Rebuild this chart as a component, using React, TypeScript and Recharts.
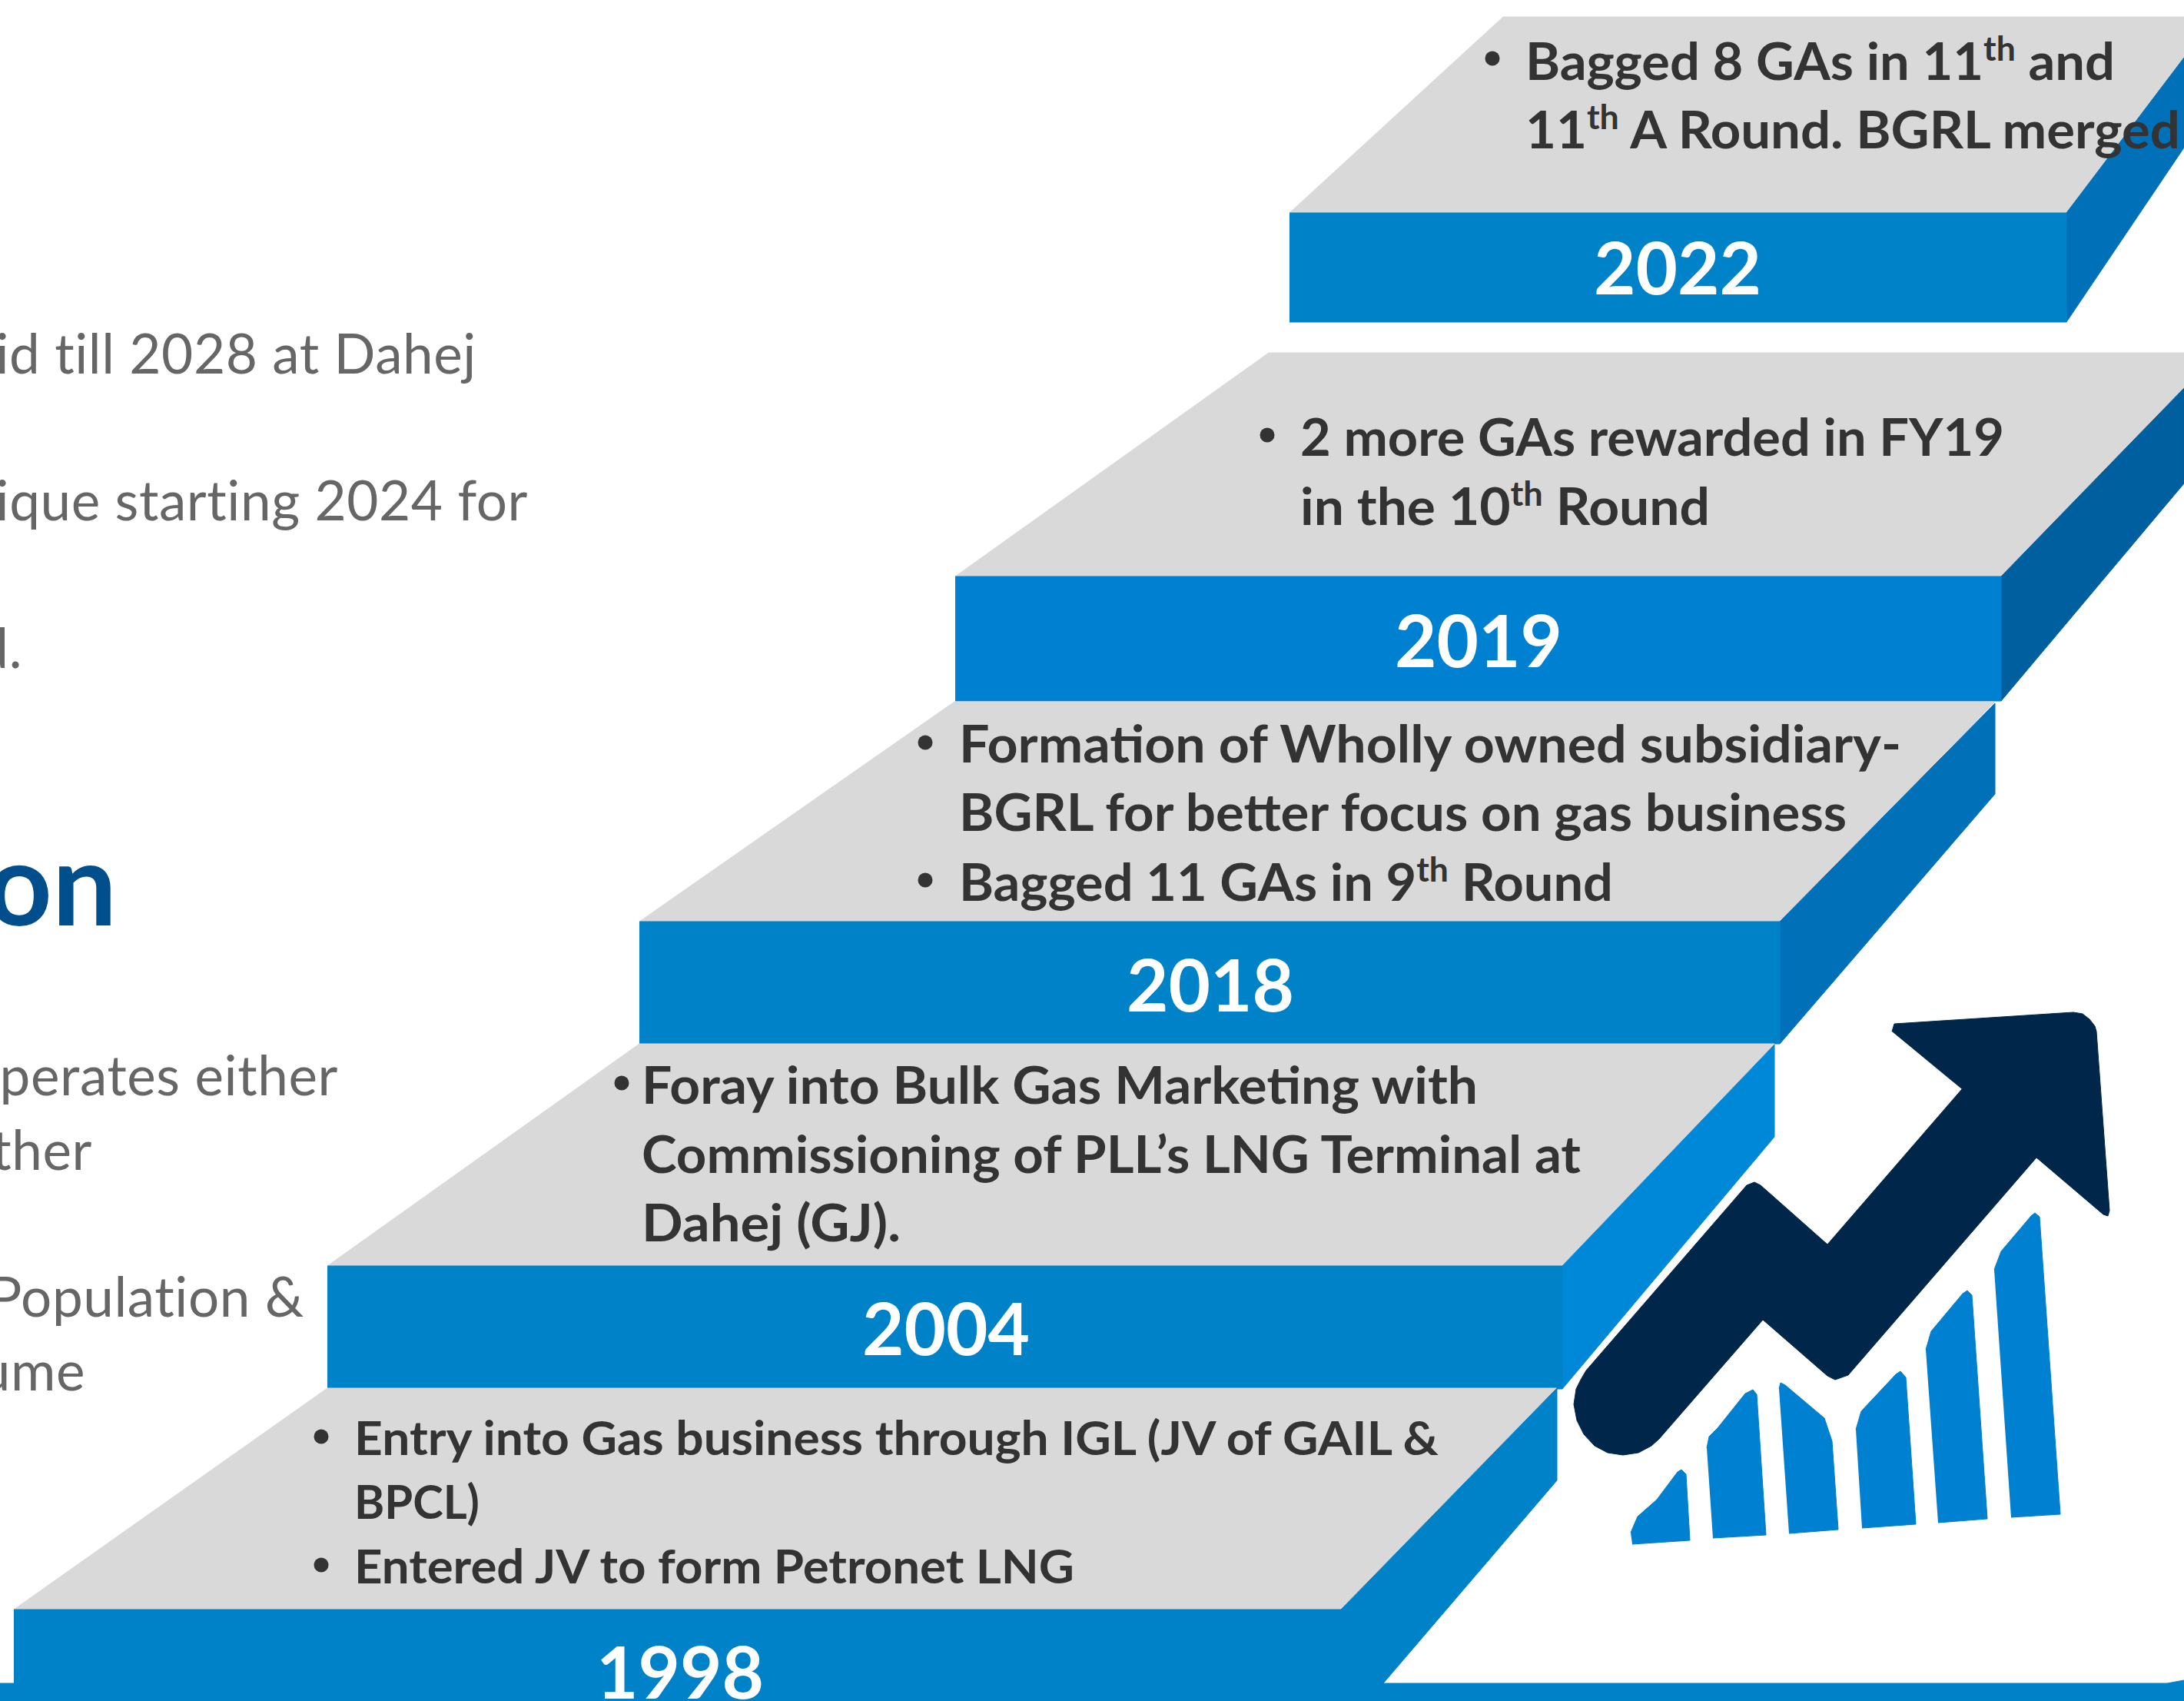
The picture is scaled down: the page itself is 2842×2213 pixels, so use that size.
import { ScatterChart, Scatter, XAxis, YAxis } from "recharts";

const W = 2842;
const H = 2213;

const COLORS = {
  top: "#d9d9d9",
  front: "#0082c8",
  front2019: "#0080d0",
  side2022: "#0070b8",
  side2019: "#005f9e",
  side2018: "#0070b8",
  side2004: "#0088d8",
  arrow: "#00274a",
  bars: "#0080d0",
  ink: "#333333",
  muted: "#666666",
  heading: "#004e8c",
};

const FONT = "Lato, sans-serif";

type Pair = [number, number];

// step faces, back to front
const top2022: Pair[] = [[1678, 277], [1956, 22], [2842, 22], [2842, 75], [2689, 277]];
const front2022: Pair[] = [[1678, 277], [2689, 277], [2689, 419], [1678, 419]];
const side2022: Pair[] = [[2689, 277], [2842, 75], [2842, 192], [2689, 419]];

const top2019: Pair[] = [[1243, 750], [1651, 459], [2842, 459], [2842, 505], [2604, 750]];
const front2019: Pair[] = [[1243, 750], [2604, 750], [2604, 912], [1243, 912]];
const side2019: Pair[] = [[2604, 750], [2842, 505], [2842, 629], [2604, 912]];

const top2018: Pair[] = [[832, 1199], [1242, 913], [2596, 913], [2316, 1199]];
const front2018: Pair[] = [[832, 1199], [2316, 1199], [2316, 1358], [832, 1358]];
const side2018: Pair[] = [[2316, 1199], [2596, 915], [2596, 1033], [2316, 1358]];

const top2004: Pair[] = [[426, 1647], [832, 1358], [2309, 1358], [2033, 1647]];
const front2004: Pair[] = [[426, 1647], [2033, 1647], [2033, 1807], [426, 1807]];
const side2004: Pair[] = [[2033, 1647], [2309, 1359], [2309, 1479], [2033, 1807]];

const top1998: Pair[] = [[18, 2094], [426, 1806], [2026, 1806], [1745, 2094]];
const front1998: Pair[] = [[18, 2094], [1745, 2094], [1745, 2213], [18, 2213]];
const side1998: Pair[] = [[1745, 2094], [2026, 1806], [2026, 1926], [1800, 2190], [1745, 2213]];
const band: Pair[] = [[0, 2190], [2820, 2190], [2842, 2186], [2842, 2213], [0, 2213]];

const arrow: Pair[] = [
  [2462, 1342], [2465, 1332], [2698, 1317], [2710, 1319], [2719, 1326], [2726, 1335],
  [2728, 1342], [2745, 1575], [2743, 1582], [2737, 1580], [2650, 1506], [2405, 1789],
  [2388, 1795], [2378, 1790], [2294, 1717], [2159, 1872], [2149, 1881], [2132, 1890],
  [2112, 1893], [2092, 1890], [2075, 1881], [2061, 1866], [2052, 1848], [2048, 1827],
  [2051, 1807], [2057, 1795], [2064, 1783], [2273, 1542], [2283, 1538], [2291, 1542],
  [2378, 1619], [2553, 1417],
];

const bar1: Pair[] = [[2124, 2009], [2199, 2004], [2194, 1918], [2188, 1912], [2183, 1915], [2156, 1951], [2131, 1973], [2122, 1994]];
const bar2: Pair[] = [[2229, 2001], [2298, 1997], [2286, 1814], [2281, 1808], [2271, 1813], [2235, 1858], [2224, 1869], [2221, 1884]];
const bar3: Pair[] = [[2328, 1995], [2392, 1990], [2384, 1875], [2374, 1845], [2323, 1802], [2317, 1799], [2315, 1807]];
const bar4: Pair[] = [[2423, 1988], [2493, 1983], [2480, 1792], [2473, 1784], [2467, 1788], [2422, 1836], [2415, 1860]];
const bar5: Pair[] = [[2522, 1981], [2586, 1976], [2566, 1685], [2560, 1679], [2554, 1683], [2513, 1732], [2506, 1756]];
const bar6: Pair[] = [[2617, 1974], [2681, 1970], [2654, 1583], [2648, 1578], [2643, 1582], [2604, 1628], [2595, 1652]];

const faces: [Pair[], string][] = [
  [top2022, COLORS.top],
  [side2022, COLORS.side2022],
  [front2022, COLORS.front],
  [top2019, COLORS.top],
  [side2019, COLORS.side2019],
  [front2019, COLORS.front2019],
  [top2018, COLORS.top],
  [side2018, COLORS.side2018],
  [front2018, COLORS.front],
  [top2004, COLORS.top],
  [side2004, COLORS.side2004],
  [front2004, COLORS.front],
  [top1998, COLORS.top],
  [side1998, COLORS.front],
  [front1998, COLORS.front],
  [band, COLORS.front],
  [arrow, COLORS.arrow],
  [bar1, COLORS.bars],
  [bar2, COLORS.bars],
  [bar3, COLORS.bars],
  [bar4, COLORS.bars],
  [bar5, COLORS.bars],
  [bar6, COLORS.bars],
];

// ^..^ marks a superscript, end is where the line stops on the x axis
const stepLines = [
  { x: 1985, y: 104, end: 2752, text: "Bagged 8 GAs in 11^th^ and" },
  { x: 1985, y: 193, end: 2837, text: "11^th^ A Round. BGRL merged" },
  { x: 1692, y: 593, end: 2608, text: "2 more GAs rewarded in FY19" },
  { x: 1692, y: 683, end: 2225, text: "in the 10^th^ Round" },
  { x: 1248, y: 992, end: 2474, text: "Formation of Wholly owned subsidiary-" },
  { x: 1248, y: 1081, end: 2403, text: "BGRL for better focus on gas business" },
  { x: 1248, y: 1172, end: 2099, text: "Bagged 11 GAs in 9^th^ Round" },
  { x: 835, y: 1436, end: 1923, text: "Foray into Bulk Gas Marketing with" },
  { x: 835, y: 1526, end: 2057, text: "Commissioning of PLL’s LNG Terminal at" },
  { x: 835, y: 1615, end: 1172, text: "Dahej (GJ)." },
];

const smallLines = [
  { x: 461, y: 1893, end: 1872, text: "Entry into Gas business through IGL (JV of GAIL &" },
  { x: 461, y: 1976, end: 624, text: "BPCL)" },
  { x: 461, y: 2060, end: 1398, text: "Entered JV to form Petronet LNG" },
];

const bullets = [
  { x: 1942, y: 76 },
  { x: 1649, y: 566 },
  { x: 1204, y: 966 },
  { x: 1204, y: 1145 },
  { x: 809, y: 1409 },
  { x: 418, y: 1869 },
  { x: 418, y: 2036 },
];

const years = [
  { x: 2183, y: 383, text: "2022" },
  { x: 1924, y: 868, text: "2019" },
  { x: 1575, y: 1316, text: "2018" },
  { x: 1231, y: 1763, text: "2004" },
  { x: 885, y: 2210, text: "1998" },
];

// left column runs off the picture, so these hang from their right end
const clippedText = [
  { x: 620, y: 486, text: "id till 2028 at Dahej" },
  { x: 687, y: 677, text: "ique starting 2024 for" },
  { x: 29, y: 869, text: "d." },
  { x: 440, y: 1425, text: "perates either" },
  { x: 120, y: 1522, text: "ther" },
  { x: 396, y: 1713, text: "Population &" },
  { x: 111, y: 1809, text: "ume" },
];

const headingText = [{ x: 152, y: 1204, text: "on" }];

const toPoints = (pairs: Pair[]) => pairs.map(([x, y]) => ({ x, y }));

const noDot = () => null;

const lineShape = (size: number) => (props: any) => {
  const { cx, cy, payload } = props;
  const parts: string[] = payload.text.split("^");
  const sup = size * 0.38;
  return (
    <text
      x={cx}
      y={cy}
      fontFamily={FONT}
      fontWeight={700}
      fontSize={size}
      fill={COLORS.ink}
      textLength={payload.end - payload.x}
      lengthAdjust="spacingAndGlyphs"
    >
      {parts.map((part, i) =>
        i % 2 === 1 ? (
          <tspan key={i} fontSize={size * 0.65} dy={-sup}>
            {part}
          </tspan>
        ) : (
          <tspan key={i} dy={i > 0 ? sup : 0}>
            {part}
          </tspan>
        ),
      )}
    </text>
  );
};

const plainShape = (size: number, weight: number, fill: string, anchor: string, spacing = 0) => (props: any) => (
  <text
    x={props.cx}
    y={props.cy}
    fontFamily={FONT}
    fontWeight={weight}
    fontSize={size}
    fill={fill}
    textAnchor={anchor}
    letterSpacing={spacing}
  >
    {props.payload.text}
  </text>
);

const bulletShape = (props: any) => <circle cx={props.cx} cy={props.cy} r={9.5} fill={COLORS.ink} />;

export default function App() {
  return (
    <div style={{ position: "absolute", left: 0, top: 0, width: W, height: H, overflow: "hidden", background: "#fff" }}>
      <ScatterChart width={W} height={H} margin={{ top: 0, right: 0, bottom: 0, left: 0 }}>
        <XAxis type="number" dataKey="x" domain={[0, W]} hide />
        <YAxis type="number" dataKey="y" domain={[0, H]} reversed hide />

        {faces.map(([pairs, color], i) => (
          <Scatter
            key={i}
            data={toPoints(pairs)}
            shape={noDot}
            line={{ fill: color, stroke: color, strokeWidth: 1 }}
            isAnimationActive={false}
          />
        ))}

        <Scatter data={bullets} shape={bulletShape} isAnimationActive={false} />
        <Scatter data={stepLines} shape={lineShape(67)} isAnimationActive={false} />
        <Scatter data={smallLines} shape={lineShape(61)} isAnimationActive={false} />
        <Scatter data={years} shape={plainShape(94, 700, "#ffffff", "middle")} isAnimationActive={false} />
        <Scatter data={clippedText} shape={plainShape(71, 400, COLORS.muted, "end", 0.6)} isAnimationActive={false} />
        <Scatter data={headingText} shape={plainShape(149, 700, COLORS.heading, "end")} isAnimationActive={false} />
      </ScatterChart>
    </div>
  );
}
